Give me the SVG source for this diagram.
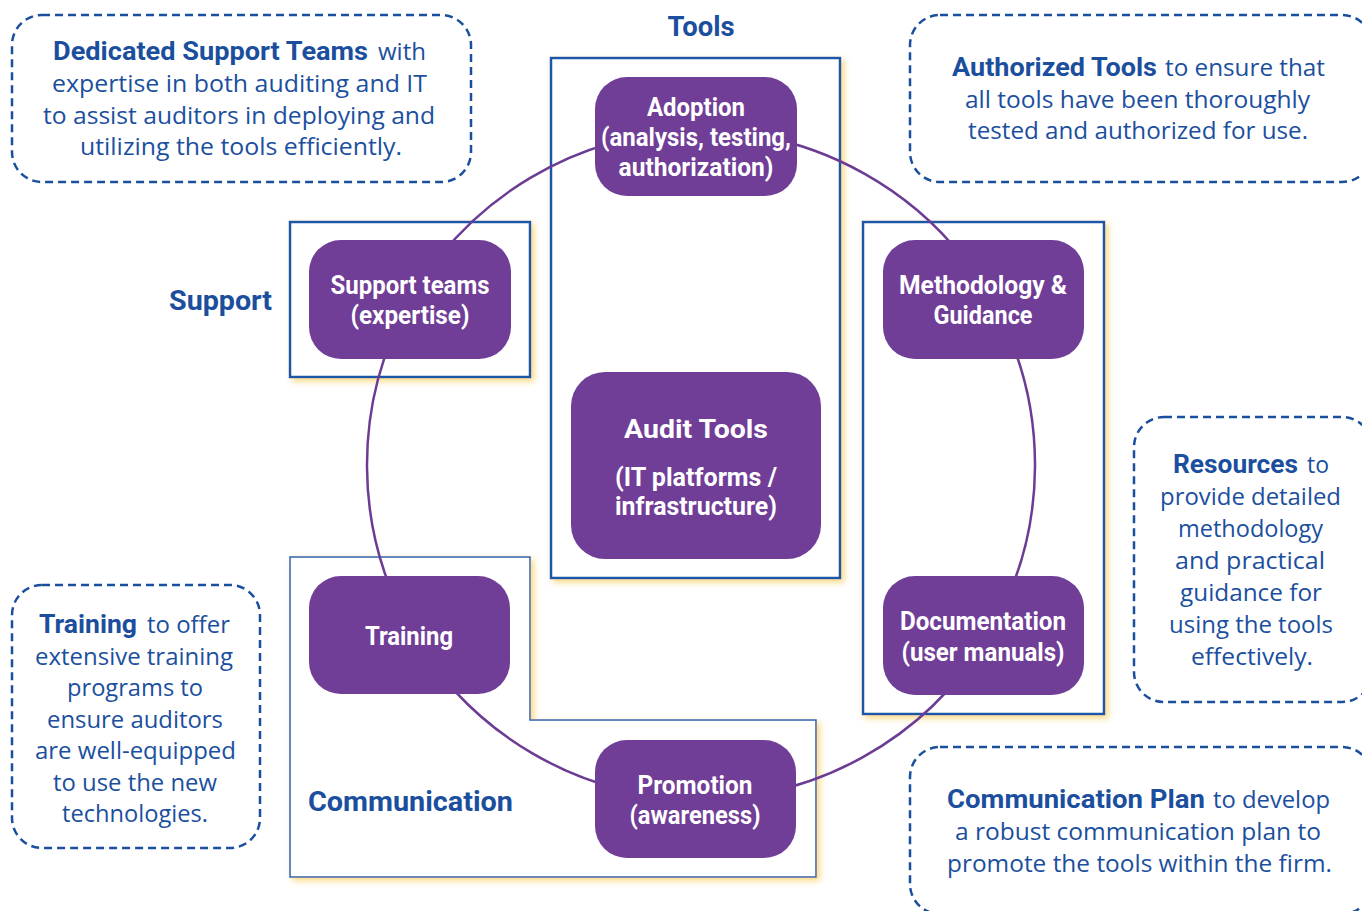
<svg xmlns="http://www.w3.org/2000/svg" width="1362" height="911" viewBox="0 0 1362 911">
  <defs>
    <filter id="glow" x="-5%" y="-5%" width="115%" height="115%">
      <feGaussianBlur in="SourceAlpha" stdDeviation="3" result="b"/>
      <feOffset in="b" dx="3" dy="3" result="o"/>
      <feFlood flood-color="#f6c848" flood-opacity="0.7"/>
      <feComposite operator="in" in2="o" result="s"/>
      <feMerge>
        <feMergeNode in="s"/>
        <feMergeNode in="SourceGraphic"/>
      </feMerge>
    </filter>
    <style>
      .area { fill: #ffffff; stroke: #1d57a6; stroke-width: 2.5; filter: url(#glow); }
      .area-thin { fill: #ffffff; stroke: #2a62ad; stroke-width: 1.5; filter: url(#glow); }
      .node rect { fill: #703d97; }
      .node text { fill: #ffffff; font-family: Roboto, "Liberation Sans", sans-serif; font-weight: 700; font-size: 25px; text-anchor: middle; }
      .link { fill: none; stroke: #6c3c95; stroke-width: 2.5; }
      .section { fill: #1b4f9e; font-family: Roboto, "Liberation Sans", sans-serif; font-weight: 700; font-size: 27px; }
      .note rect { fill: none; stroke: #1b4f9e; stroke-width: 2.5; stroke-dasharray: 8 5; }
      .note text { fill: #1b4f9e; font-family: "Open Sans", "Liberation Sans", sans-serif; font-size: 23.5px; }
      .note .b { font-family: Roboto, "Liberation Sans", sans-serif; font-weight: 700; font-size: 25px; }
    </style>
  </defs>

  <!-- group areas -->
  <g id="areas">
    <rect id="area-tools" class="area" x="551" y="58" width="289" height="520"/>
    <rect id="area-support" class="area" x="290" y="222" width="240" height="155"/>
    <rect id="area-method" class="area" x="863" y="222" width="241" height="492"/>
    <path id="area-communication" class="area-thin" d="M290 557 H530 V720 H816 V877 H290 Z"/>
  </g>

  <!-- section titles -->
  <g id="section-labels">
    <text class="section" x="701" y="36" text-anchor="middle" textLength="67" lengthAdjust="spacingAndGlyphs">Tools</text>
    <text class="section" x="169" y="310" textLength="103" lengthAdjust="spacingAndGlyphs">Support</text>
    <text class="section" x="308" y="811" font-size="28" textLength="205" lengthAdjust="spacingAndGlyphs">Communication</text>
  </g>

  <!-- cycle connectors -->
  <g id="connectors">
    <path class="link" d="M695.7 131 A334 334 0 0 1 989.1 296"/>
    <path class="link" d="M989.1 296 A334 334 0 0 1 987 637.5"/>
    <path class="link" d="M987 637.5 A334 334 0 0 1 695.7 799"/>
    <path class="link" d="M695.7 799 A334 334 0 0 1 412.6 633.5"/>
    <path class="link" d="M412.6 633.5 A334 334 0 0 1 410.6 300"/>
    <path class="link" d="M410.6 300 A334 334 0 0 1 695.7 131"/>
  </g>

  <!-- nodes -->
  <g id="node-adoption" class="node">
    <rect x="595" y="77" width="202" height="119" rx="32"/>
    <text x="696" y="116" textLength="98" lengthAdjust="spacingAndGlyphs">Adoption</text>
    <text x="696" y="146" textLength="190" lengthAdjust="spacingAndGlyphs">(analysis, testing,</text>
    <text x="696" y="176" textLength="155" lengthAdjust="spacingAndGlyphs">authorization)</text>
  </g>
  <g id="node-support" class="node">
    <rect x="309" y="240" width="202" height="119" rx="32"/>
    <text x="410" y="294" textLength="159" lengthAdjust="spacingAndGlyphs">Support teams</text>
    <text x="410" y="324" textLength="119" lengthAdjust="spacingAndGlyphs">(expertise)</text>
  </g>
  <g id="node-methodology" class="node">
    <rect x="883" y="240" width="201" height="119" rx="32"/>
    <text x="983" y="294" textLength="168" lengthAdjust="spacingAndGlyphs">Methodology &amp;</text>
    <text x="983" y="324" textLength="99" lengthAdjust="spacingAndGlyphs">Guidance</text>
  </g>
  <g id="node-documentation" class="node">
    <rect x="883" y="576" width="201" height="119" rx="32"/>
    <text x="983" y="630" textLength="166" lengthAdjust="spacingAndGlyphs">Documentation</text>
    <text x="983" y="661" textLength="163" lengthAdjust="spacingAndGlyphs">(user manuals)</text>
  </g>
  <g id="node-training" class="node">
    <rect x="309" y="576" width="201" height="118" rx="32"/>
    <text x="409" y="645" textLength="88" lengthAdjust="spacingAndGlyphs">Training</text>
  </g>
  <g id="node-promotion" class="node">
    <rect x="595" y="740" width="201" height="118" rx="32"/>
    <text x="695" y="794" textLength="115" lengthAdjust="spacingAndGlyphs">Promotion</text>
    <text x="695" y="824" textLength="131" lengthAdjust="spacingAndGlyphs">(awareness)</text>
  </g>
  <g id="node-audit-tools" class="node">
    <rect x="571" y="372" width="250" height="187" rx="34"/>
    <text x="696" y="438" font-size="31" textLength="144" lengthAdjust="spacingAndGlyphs">Audit Tools</text>
    <text x="696" y="486" textLength="162" lengthAdjust="spacingAndGlyphs">(IT platforms /</text>
    <text x="696" y="515" textLength="162" lengthAdjust="spacingAndGlyphs">infrastructure)</text>
  </g>

  <!-- explanatory notes -->
  <g id="note-support-teams" class="note">
    <rect x="12" y="15" width="459" height="167" rx="30"/>
    <text class="b" x="53" y="60" textLength="315" lengthAdjust="spacingAndGlyphs">Dedicated Support Teams</text>
    <text x="378" y="60" textLength="48" lengthAdjust="spacingAndGlyphs">with</text>
    <text x="52" y="92" textLength="375" lengthAdjust="spacingAndGlyphs">expertise in both auditing and IT</text>
    <text x="43" y="124" textLength="392" lengthAdjust="spacingAndGlyphs">to assist auditors in deploying and</text>
    <text x="80" y="155" textLength="322" lengthAdjust="spacingAndGlyphs">utilizing the tools efficiently.</text>
  </g>
  <g id="note-authorized-tools" class="note">
    <rect x="910" y="15" width="462" height="167" rx="30"/>
    <text class="b" x="952" y="76" textLength="205" lengthAdjust="spacingAndGlyphs">Authorized Tools</text>
    <text x="1165" y="76" textLength="160" lengthAdjust="spacingAndGlyphs">to ensure that</text>
    <text x="965" y="108" textLength="345" lengthAdjust="spacingAndGlyphs">all tools have been thoroughly</text>
    <text x="968" y="139" textLength="340" lengthAdjust="spacingAndGlyphs">tested and authorized for use.</text>
  </g>
  <g id="note-resources" class="note">
    <rect x="1134" y="417" width="238" height="285" rx="30"/>
    <text class="b" x="1173" y="473" textLength="125" lengthAdjust="spacingAndGlyphs">Resources</text>
    <text x="1307" y="473" textLength="22" lengthAdjust="spacingAndGlyphs">to</text>
    <text x="1160" y="505" textLength="181" lengthAdjust="spacingAndGlyphs">provide detailed</text>
    <text x="1178" y="537" textLength="145" lengthAdjust="spacingAndGlyphs">methodology</text>
    <text x="1175" y="569" textLength="150" lengthAdjust="spacingAndGlyphs">and practical</text>
    <text x="1180" y="601" textLength="142" lengthAdjust="spacingAndGlyphs">guidance for</text>
    <text x="1169" y="633" textLength="164" lengthAdjust="spacingAndGlyphs">using the tools</text>
    <text x="1191" y="665" textLength="122" lengthAdjust="spacingAndGlyphs">effectively.</text>
  </g>
  <g id="note-training" class="note">
    <rect x="12" y="585" width="248" height="263" rx="30"/>
    <text class="b" x="39" y="633" textLength="98" lengthAdjust="spacingAndGlyphs">Training</text>
    <text x="147" y="633" textLength="83" lengthAdjust="spacingAndGlyphs">to offer</text>
    <text x="35" y="664.5" textLength="198" lengthAdjust="spacingAndGlyphs">extensive training</text>
    <text x="67" y="696" textLength="136" lengthAdjust="spacingAndGlyphs">programs to</text>
    <text x="47" y="727.5" textLength="176" lengthAdjust="spacingAndGlyphs">ensure auditors</text>
    <text x="35" y="759" textLength="201" lengthAdjust="spacingAndGlyphs">are well-equipped</text>
    <text x="53" y="790.5" textLength="164" lengthAdjust="spacingAndGlyphs">to use the new</text>
    <text x="62" y="822" textLength="146" lengthAdjust="spacingAndGlyphs">technologies.</text>
  </g>
  <g id="note-communication-plan" class="note">
    <rect x="910" y="747" width="462" height="167" rx="30"/>
    <text class="b" x="947" y="808" textLength="258" lengthAdjust="spacingAndGlyphs">Communication Plan</text>
    <text x="1213" y="808" textLength="117" lengthAdjust="spacingAndGlyphs">to develop</text>
    <text x="955" y="840" textLength="366" lengthAdjust="spacingAndGlyphs">a robust communication plan to</text>
    <text x="947" y="872" textLength="385" lengthAdjust="spacingAndGlyphs">promote the tools within the firm.</text>
  </g>
</svg>
